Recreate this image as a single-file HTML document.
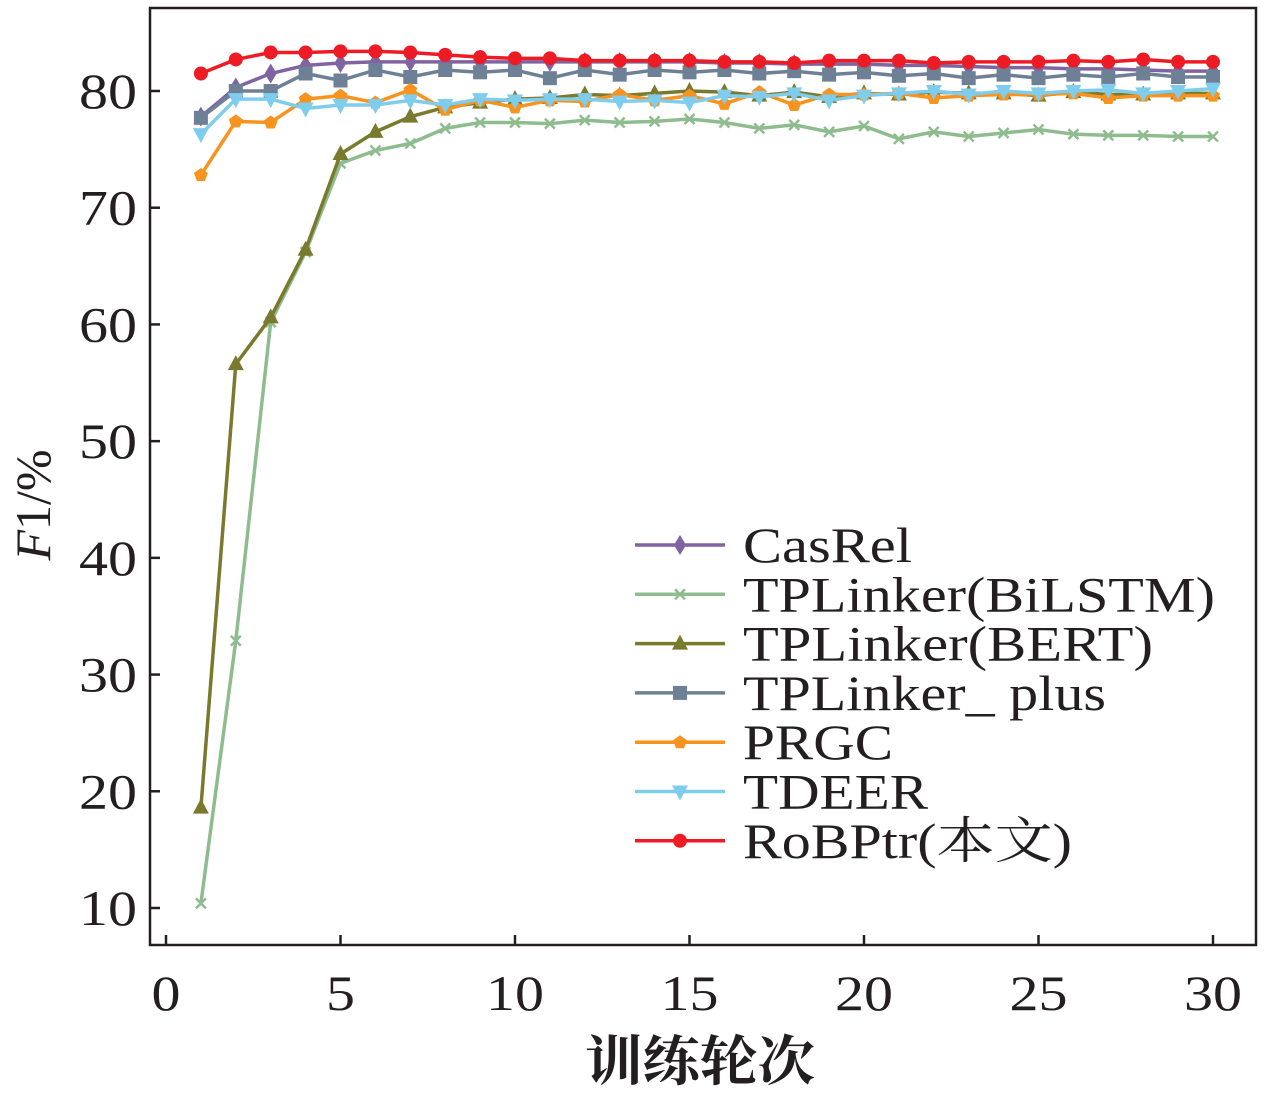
<!DOCTYPE html>
<html><head><meta charset="utf-8"><style>
body{margin:0;background:#fff}
svg text{font-family:"Liberation Serif","Noto Serif CJK SC",serif;fill:#231f20}
</style></head><body>
<svg id="c" width="1273" height="1095"></svg>
<script>
const epochs=[1,2,3,4,5,6,7,8,9,10,11,12,13,14,15,16,17,18,19,20,21,22,23,24,25,26,27,28,29,30];
const casrel=[77.8,80.3,81.5,82.2,82.4,82.5,82.5,82.5,82.5,82.5,82.5,82.5,82.5,82.5,82.5,82.4,82.4,82.3,82.3,82.3,82.2,82.2,82.1,82.0,82.0,81.9,81.9,81.8,81.7,81.7];
const bilstm=[10.4,32.9,60.2,66.2,73.8,74.9,75.5,76.8,77.3,77.3,77.2,77.5,77.3,77.4,77.6,77.3,76.8,77.1,76.5,77.0,75.9,76.5,76.1,76.4,76.7,76.3,76.2,76.2,76.1,76.1];
const bert=[18.6,56.6,60.6,66.4,74.6,76.5,77.8,78.6,79.0,79.3,79.4,79.7,79.6,79.8,80.0,79.9,79.6,79.9,79.5,79.8,79.7,79.9,79.8,79.8,79.6,79.9,79.7,79.7,79.8,79.8];
const plus=[77.7,80.0,80.0,81.5,80.9,81.8,81.2,81.8,81.6,81.8,81.1,81.8,81.4,81.8,81.6,81.8,81.5,81.7,81.4,81.6,81.3,81.5,81.1,81.4,81.1,81.4,81.2,81.5,81.2,81.2];
const prgc=[72.8,77.4,77.3,79.3,79.6,79.0,80.1,78.4,79.2,78.6,79.2,79.1,79.7,79.2,79.6,78.9,79.9,78.8,79.7,79.7,79.8,79.4,79.6,79.7,79.7,79.8,79.4,79.6,79.6,79.6];
const tdeer=[76.3,79.3,79.3,78.5,78.8,78.8,79.2,78.8,79.3,79.2,79.3,79.3,79.1,79.2,79.0,79.6,79.5,79.8,79.2,79.6,79.8,80.0,79.7,80.0,79.8,80.0,80.1,79.8,80.0,80.2];
const robptr=[81.5,82.7,83.3,83.3,83.4,83.4,83.3,83.1,82.9,82.8,82.8,82.6,82.6,82.6,82.6,82.5,82.5,82.4,82.6,82.6,82.6,82.4,82.5,82.5,82.5,82.6,82.5,82.7,82.5,82.5];
const xTicks=[0,5,10,15,20,25,30];
const yTicks=[10,20,30,40,50,60,70,80];
const names=["CasRel","TPLinker(BiLSTM)","TPLinker(BERT)","TPLinker_ plus","PRGC","TDEER","RoBPtr(本文)"];
const series=[casrel,bilstm,bert,plus,prgc,tdeer,robptr];
const colors=["#8064a2","#8fbc8f","#7a7a2e","#6e8096","#f7931e","#7fcdec","#ed1c24"];
const markers=["diamond","x","tri","square","pent","tridown","circle"];
const slugs=["casrel","tplinker-bilstm","tplinker-bert","tplinker-plus","prgc","tdeer","robptr"];
const legendW=[169,472,410,363,150,185,329];
const X=v=>166+v*(1213-166)/30, Y=v=>91+(80-v)*(908-91)/70;
const svg=document.getElementById('c'),NS="http://www.w3.org/2000/svg";
function el(t,a,p){const e=document.createElementNS(NS,t);for(const k in a)e.setAttribute(k,a[k]);(p||svg).appendChild(e);return e;}
function marker(type,x,y,c,g){
  if(type==="circle")return el('circle',{cx:x,cy:y,r:7,fill:c},g);
  if(type==="square")return el('rect',{x:x-7,y:y-7,width:14,height:14,fill:c},g);
  if(type==="diamond")return el('polygon',{points:`${x},${y-10} ${x+6},${y} ${x},${y+10} ${x-6},${y}`,fill:c},g);
  if(type==="tri")return el('polygon',{points:`${x},${y-9} ${x+8},${y+6} ${x-8},${y+6}`,fill:c},g);
  if(type==="tridown")return el('polygon',{points:`${x-8},${y-6} ${x+8},${y-6} ${x},${y+9}`,fill:c},g);
  if(type==="pent")return el('polygon',{points:`${x},${y-7} ${x+7},${y-2} ${x+4},${y+6} ${x-4},${y+6} ${x-7},${y-2}`,fill:c},g);
  if(type==="x")return el('path',{d:`M${x-5},${y-5}L${x+5},${y+5}M${x+5},${y-5}L${x-5},${y+5}`,stroke:c,'stroke-width':2.5},g);
}
const frame=el('rect',{x:150,y:8,width:1106,height:937,fill:'none',stroke:'#231f20','stroke-width':2.5});

xTicks.forEach(t=>{el('line',{x1:X(t),x2:X(t),y1:945,y2:935,stroke:'#231f20','stroke-width':2.5});
  const s=String(t);
  const tx=el('text',{x:X(t),y:1010,'text-anchor':'middle','font-size':50,textLength:s.length*29,lengthAdjust:'spacingAndGlyphs'});tx.textContent=s;
  });
yTicks.forEach(t=>{el('line',{x1:150,x2:160,y1:Y(t),y2:Y(t),stroke:'#231f20','stroke-width':2.5});
  const s=String(t);
  const tx=el('text',{x:137,y:Y(t)+17,'text-anchor':'end','font-size':50,textLength:s.length*29,lengthAdjust:'spacingAndGlyphs'});tx.textContent=s;
  });
const xt=el('text',{x:700,y:1080,'text-anchor':'middle','font-size':54,'font-weight':'bold',textLength:230,lengthAdjust:'spacingAndGlyphs'});xt.textContent='训练轮次';

const yt=el('text',{transform:'translate(50,505) rotate(-90)','text-anchor':'middle','font-size':50});
yt.innerHTML='<tspan font-style="italic">F</tspan>1/%';

series.forEach((s,i)=>{const g=el('g',{});
  
  el('polyline',{points:s.map((v,j)=>X(epochs[j])+','+Y(v)).join(' '),fill:'none',stroke:colors[i],'stroke-width':3.5},g);
  s.forEach((v,j)=>marker(markers[i],X(epochs[j]),Y(v),colors[i],g));});
names.forEach((n,i)=>{const y=545+i*49.3;const g=el('g',{});
  
  el('line',{x1:635,x2:725,y1:y,y2:y,stroke:colors[i],'stroke-width':3.5},g);
  marker(markers[i],680,y,colors[i],g);
  const t=el('text',{x:743,y:y+17,'font-size':50,textLength:legendW[i],lengthAdjust:'spacingAndGlyphs'},g);t.textContent=n;});
</script>
</body></html>
